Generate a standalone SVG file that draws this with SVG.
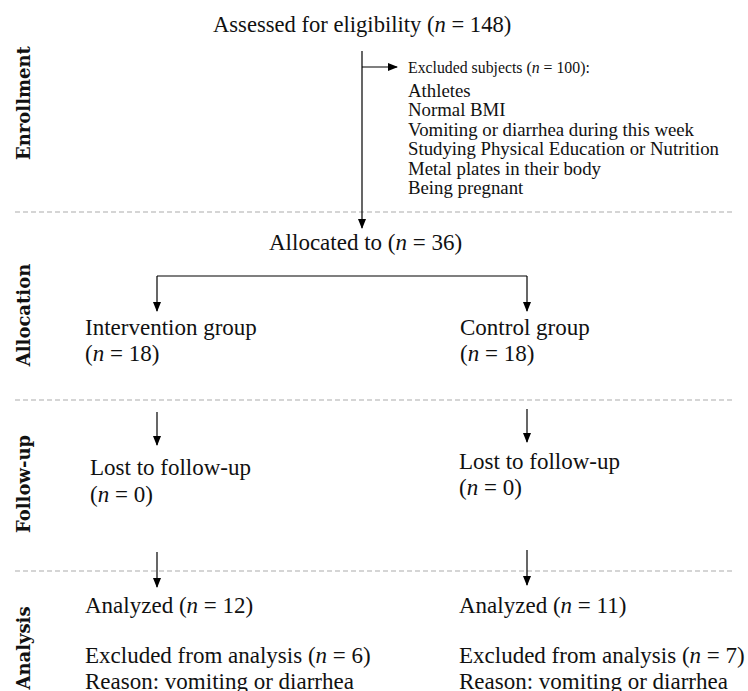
<svg xmlns="http://www.w3.org/2000/svg" width="748" height="691" viewBox="0 0 748 691">
<defs>
<marker id="ah" markerWidth="10" markerHeight="8" refX="9" refY="4" orient="auto" markerUnits="userSpaceOnUse">
<path d="M0,0 L10,4 L0,8 Z" fill="#000"/>
</marker>
<style>
.t{font-family:"Liberation Serif","Times New Roman",serif;font-size:23px;fill:#111}
.tt{font-family:"Liberation Serif","Times New Roman",serif;font-size:22.6px;fill:#111}
.s{font-family:"Liberation Serif","Times New Roman",serif;font-size:18.8px;fill:#111}
.h{font-family:"Liberation Serif","Times New Roman",serif;font-size:15.8px;fill:#111}
.side{font-family:"DejaVu Serif","Liberation Serif",serif;font-weight:bold;font-size:18px;fill:#111}
.i{font-style:italic}
.c{fill:none;stroke:#000;stroke-width:1.2}
.a{fill:none;stroke:#000;stroke-width:1.2;marker-end:url(#ah)}
.d{fill:none;stroke:#c8c8c8;stroke-width:1.5;stroke-dasharray:5,3}
</style>
</defs>
<rect width="748" height="691" fill="#fff"/>
<g id="dividers">
<line class="d" x1="15" y1="212" x2="735" y2="212"/>
<line class="d" x1="15" y1="400" x2="735" y2="400"/>
<line class="d" x1="15" y1="571" x2="735" y2="571"/>
</g>
<g id="stages">
<text class="side" transform="translate(30,103) rotate(-90)" text-anchor="middle">Enrollment</text>
<text class="side" transform="translate(30,315) rotate(-90)" text-anchor="middle">Allocation</text>
<text class="side" transform="translate(30,484) rotate(-90)" text-anchor="middle">Follow-up</text>
<text class="side" transform="translate(30,648) rotate(-90)" text-anchor="middle">Analysis</text>
</g>
<g id="connectors">
<line class="a" x1="362" y1="51" x2="362" y2="228"/>
<line class="a" x1="362" y1="67" x2="397" y2="67"/>
<polyline class="c" points="157,276 527,276"/>
<line class="a" x1="157" y1="276" x2="157" y2="311"/>
<line class="a" x1="527" y1="276" x2="527" y2="311"/>
<line class="a" x1="157" y1="412" x2="157" y2="445"/>
<line class="a" x1="527" y1="409" x2="527" y2="442"/>
<line class="a" x1="157" y1="552" x2="157" y2="587"/>
<line class="a" x1="527" y1="550" x2="527" y2="585"/>
</g>
<g id="assessed"><text class="tt" x="213" y="32">Assessed for eligibility (<tspan class="i">n</tspan> = 148)</text></g>
<g id="excluded">
<text class="h" x="408" y="73">Excluded subjects (<tspan class="i">n</tspan> = 100):</text>
<text class="s" x="408" y="97">Athletes</text>
<text class="s" x="408" y="116">Normal BMI</text>
<text class="s" x="408" y="136">Vomiting or diarrhea during this week</text>
<text class="s" x="408" y="155">Studying Physical Education or Nutrition</text>
<text class="s" x="408" y="175">Metal plates in their body</text>
<text class="s" x="408" y="194">Being pregnant</text>
</g>
<g id="allocated"><text class="t" x="269" y="250">Allocated to (<tspan class="i">n</tspan> = 36)</text></g>
<g id="intervention">
<text class="t" x="85" y="335">Intervention group</text>
<text class="t" x="85" y="361">(<tspan class="i">n</tspan> = 18)</text>
</g>
<g id="control">
<text class="t" x="460" y="335">Control group</text>
<text class="t" x="460" y="361">(<tspan class="i">n</tspan> = 18)</text>
</g>
<g id="lost-left">
<text class="t" x="90" y="475">Lost to follow-up</text>
<text class="t" x="90" y="502">(<tspan class="i">n</tspan> = 0)</text>
</g>
<g id="lost-right">
<text class="t" x="459" y="469">Lost to follow-up</text>
<text class="t" x="459" y="495">(<tspan class="i">n</tspan> = 0)</text>
</g>
<g id="analyzed-left">
<text class="t" x="85" y="613">Analyzed (<tspan class="i">n</tspan> = 12)</text>
<text class="t" x="85" y="663">Excluded from analysis (<tspan class="i">n</tspan> = 6)</text>
<text class="t" x="85" y="689">Reason: vomiting or diarrhea</text>
</g>
<g id="analyzed-right">
<text class="t" x="459" y="613">Analyzed (<tspan class="i">n</tspan> = 11)</text>
<text class="t" x="459" y="663">Excluded from analysis (<tspan class="i">n</tspan> = 7)</text>
<text class="t" x="459" y="689">Reason: vomiting or diarrhea</text>
</g>
</svg>
